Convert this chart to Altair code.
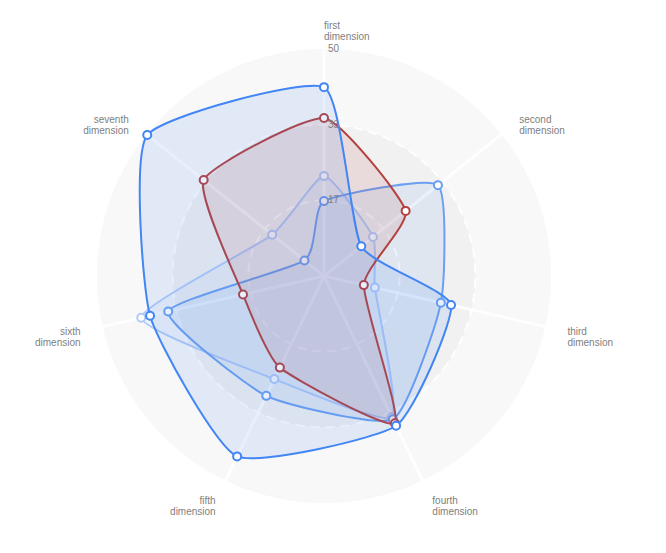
import math
import altair as alt
import pandas as pd

dimensions = ["first dimension", "second dimension", "third dimension", "fourth dimension",
              "fifth dimension", "sixth dimension", "seventh dimension"]
series_names = ["Series A", "Series B", "Series C", "Series D"]
series_a = [41.6, 10.5, 28.7, 36.6, 44.1, 39.3, 49.8]   # dark blue
series_b = [34.8, 23.0, 9.0, 36.0, 22.4, 18.3, 33.9]    # red
series_c = [16.5, 32.1, 26.4, 35.0, 29.3, 35.2, 5.5]    # medium blue
series_d = [22.0, 13.8, 11.5, 34.5, 25.2, 41.3, 14.6]   # light blue
series_colors = ["#4285f4", "#b5413e", "#6b9ff2", "#b0cbf8"]
tick_values = [50 / 3, 100 / 3, 50]
tick_labels = ["17", "33", "50"]
max_value = 50

# geometry
W, H = 632, 536
K = 227 / max_value          # pixels per unit
XH = (W / 2) / K
YH = (H / 2) / K
N = len(dimensions)

xs = alt.Scale(domain=[-XH, XH], nice=False, zero=False)
ys = alt.Scale(domain=[-YH, YH], nice=False, zero=False)


def polar(chart, rfield="value"):
    return chart.transform_calculate(
        ang=f"datum.idx * 2 * PI / {N}"
    ).transform_calculate(
        px=f"datum.{rfield} * sin(datum.ang)",
        py=f"datum.{rfield} * cos(datum.ang)",
    )


# background discs
disc_df = pd.DataFrame({"c": [0]})
discs = []
for lvl, col in [(50, "#f8f8f8"), (100 / 3, "#f1f1f1")]:
    discs.append(
        alt.Chart(disc_df).mark_arc(radius=K * lvl, theta=0, theta2=2 * math.pi, color=col)
        .encode(x=alt.X(datum=0, scale=xs, axis=None), y=alt.Y(datum=0, scale=ys, axis=None))
    )
rings = []
for lvl in tick_values[:2]:
    rings.append(
        alt.Chart(disc_df).mark_arc(radius=K * lvl, theta=0, theta2=2 * math.pi, filled=False,
                                    stroke="white", strokeWidth=2, strokeDash=[9, 6], opacity=0.9)
        .encode(x=alt.X(datum=0, scale=xs, axis=None), y=alt.Y(datum=0, scale=ys, axis=None))
    )

dim_df = pd.DataFrame({"dim": dimensions, "idx": list(range(N)), "value": [max_value] * N,
                       "lab": [55.0] * N, "zero": [0.0] * N})

spokes = polar(alt.Chart(dim_df)).mark_rule(color="white", strokeWidth=3, opacity=0.85).encode(
    x=alt.X("zero:Q", scale=xs, axis=None), y=alt.Y("zero:Q", scale=ys, axis=None),
    x2="px:Q", y2="py:Q")

labels_left = polar(alt.Chart(dim_df), "lab").transform_filter("datum.idx <= 3").mark_text(
    align="left", baseline="middle", lineBreak=" ", fontSize=10, font="Liberation Sans",
    color="#808080", lineHeight=11).encode(
    x=alt.X("px:Q", scale=xs, axis=None), y=alt.Y("py:Q", scale=ys, axis=None), text="dim:N")
labels_right = polar(alt.Chart(dim_df), "lab").transform_filter("datum.idx > 3").mark_text(
    align="right", baseline="middle", lineBreak=" ", fontSize=10, font="Liberation Sans",
    color="#808080", lineHeight=11).encode(
    x=alt.X("px:Q", scale=xs, axis=None), y=alt.Y("py:Q", scale=ys, axis=None), text="dim:N")

tick_df = pd.DataFrame({"v": tick_values, "t": tick_labels, "zero": [0.0] * 3})
ticks = alt.Chart(tick_df).mark_text(align="left", baseline="middle", dx=4, fontSize=10,
                                     font="Liberation Sans", color="#808080").encode(
    x=alt.X("zero:Q", scale=xs, axis=None), y=alt.Y("v:Q", scale=ys, axis=None), text="t:N")

series_vals = [series_a, series_b, series_c, series_d]
series_layers = []
for name, vals, col in reversed(list(zip(series_names, series_vals, series_colors))):
    df = pd.DataFrame({"series": name, "dim": dimensions, "idx": list(range(N)), "value": vals})
    base = polar(alt.Chart(df))
    line = base.mark_line(interpolate="cardinal-closed", tension=0.5, stroke=col, strokeWidth=2,
                          fill=col, fillOpacity=0.12).encode(
        x=alt.X("px:Q", scale=xs, axis=None), y=alt.Y("py:Q", scale=ys, axis=None),
        order="idx:Q")
    pts = base.mark_point(filled=True, fill="white", stroke=col, strokeWidth=2, size=64,
                          opacity=1, shape="circle").encode(
        x=alt.X("px:Q", scale=xs, axis=None), y=alt.Y("py:Q", scale=ys, axis=None))
    series_layers += [line, pts]

chart = alt.layer(*discs, *rings, spokes, *series_layers, ticks, labels_left, labels_right).properties(
    width=W, height=H, padding=0, autosize=alt.AutoSizeParams(type="none")
).configure_view(stroke=None)

chart.save("out.html", embed_options={"renderer": "svg", "actions": False})
